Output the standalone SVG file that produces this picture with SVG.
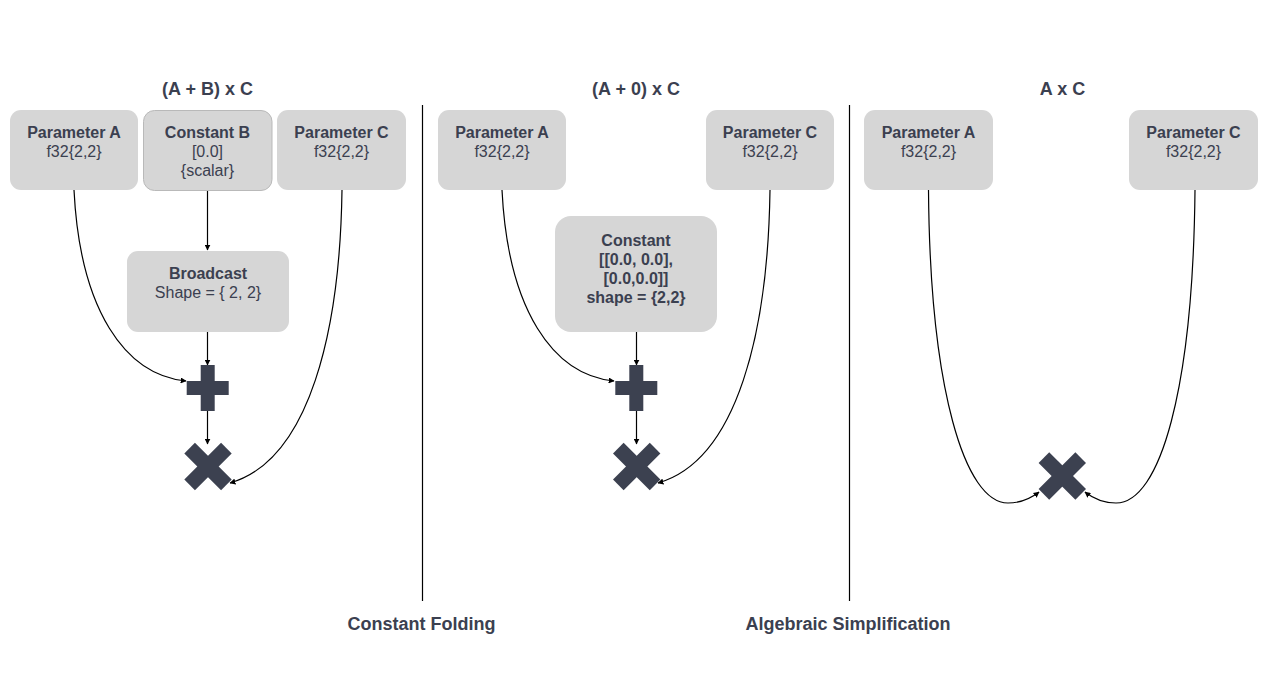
<svg xmlns="http://www.w3.org/2000/svg" width="1271" height="679" viewBox="0 0 1271 679">
<style>
.node{fill:#d6d6d6}
.nodeb{fill:#d6d6d6;stroke:#b9b9b9;stroke-width:1}
.t{font-family:"Liberation Sans",Arial,Helvetica,sans-serif;fill:#3b4050;text-anchor:middle}
.b{font-weight:bold}
.ti{font-size:18px;font-weight:bold}
.n{font-size:16px}
.op{fill:#3c4150}
.c{fill:none;stroke:#000;stroke-width:1.2}
.div{stroke:#000;stroke-width:1.2}
</style>
<defs>
<marker id="ah" viewBox="0 0 10 10" refX="9" refY="5" markerWidth="6" markerHeight="6" markerUnits="userSpaceOnUse" orient="auto">
<path d="M0,0 L10,5 L0,10 Z" fill="#000"/>
</marker>
<g id="plus"><rect x="-7" y="-23" width="14" height="46"/><rect x="-21" y="-7" width="42" height="14"/></g>
<g id="times"><rect x="-26" y="-7.5" width="52" height="15" transform="rotate(45)"/><rect x="-26" y="-7.5" width="52" height="15" transform="rotate(-45)"/></g>
</defs>
<rect width="1271" height="679" fill="#fff"/>

<g id="titles" class="t ti">
<text x="207.5" y="95">(A + B) x C</text>
<text x="636" y="95">(A + 0) x C</text>
<text x="1062.5" y="95">A x C</text>
<text x="421.5" y="630">Constant Folding</text>
<text x="848" y="630">Algebraic Simplification</text>
</g>

<g id="dividers">
<line class="div" x1="422.5" y1="105" x2="422.5" y2="601"/>
<line class="div" x1="849.5" y1="105" x2="849.5" y2="601"/>
</g>

<g id="connectors">
<path class="c" marker-end="url(#ah)" d="M74,190 C80,310 125,375 186,381"/>
<path class="c" marker-end="url(#ah)" d="M207.5,191 L207.5,250"/>
<path class="c" marker-end="url(#ah)" d="M207.5,332 L207.5,365"/>
<path class="c" marker-end="url(#ah)" d="M207.5,411 L207.5,444"/>
<path class="c" marker-end="url(#ah)" d="M342,190 C340,330 310,460 230,483"/>

<path class="c" marker-end="url(#ah)" d="M502,190 C508,310 553,375 614,381"/>
<path class="c" marker-end="url(#ah)" d="M636.5,332 L636.5,365"/>
<path class="c" marker-end="url(#ah)" d="M636.5,411 L636.5,444"/>
<path class="c" marker-end="url(#ah)" d="M770,190 C768,330 738,460 658,483"/>

<path class="c" marker-end="url(#ah)" d="M928.5,190 C930,390 965,503 1008,503 Q1025,503 1039,492"/>
<path class="c" marker-end="url(#ah)" d="M1195,190 C1193,390 1160,503 1116,503 Q1099,503 1085,492"/>
</g>

<g id="left-paramA">
<rect class="node" x="10" y="110" width="128" height="80" rx="11"/>
<text class="t n b" x="74" y="138">Parameter A</text>
<text class="t n" x="74" y="157">f32{2,2}</text>
</g>
<g id="left-constB">
<rect class="nodeb" x="143.5" y="110.5" width="128.5" height="80" rx="11"/>
<text class="t n b" x="207.5" y="138">Constant B</text>
<text class="t n" x="207.5" y="157">[0.0]</text>
<text class="t n" x="207.5" y="176">{scalar}</text>
</g>
<g id="left-paramC">
<rect class="node" x="277" y="110" width="129" height="80" rx="11"/>
<text class="t n b" x="341.5" y="138">Parameter C</text>
<text class="t n" x="341.5" y="157">f32{2,2}</text>
</g>
<g id="left-broadcast">
<rect class="node" x="127" y="251" width="162" height="81" rx="11"/>
<text class="t n b" x="208" y="279">Broadcast</text>
<text class="t n" x="208" y="298">Shape = { 2, 2}</text>
</g>
<g id="left-plus" class="op"><use href="#plus" x="207.7" y="388"/></g>
<g id="left-times" class="op"><use href="#times" x="208" y="466.5"/></g>

<g id="mid-paramA">
<rect class="node" x="438" y="110" width="128" height="80" rx="11"/>
<text class="t n b" x="502" y="138">Parameter A</text>
<text class="t n" x="502" y="157">f32{2,2}</text>
</g>
<g id="mid-paramC">
<rect class="node" x="706" y="110" width="128" height="80" rx="11"/>
<text class="t n b" x="770" y="138">Parameter C</text>
<text class="t n" x="770" y="157">f32{2,2}</text>
</g>
<g id="mid-constant">
<rect class="node" x="555" y="216" width="162" height="116" rx="16"/>
<text class="t n b" x="636" y="246">Constant</text>
<text class="t n b" x="636" y="265">[[0.0, 0.0],</text>
<text class="t n b" x="636" y="284">[0.0,0.0]]</text>
<text class="t n b" x="636" y="303">shape = {2,2}</text>
</g>
<g id="mid-plus" class="op"><use href="#plus" x="636.3" y="388"/></g>
<g id="mid-times" class="op"><use href="#times" x="636.7" y="466.5"/></g>

<g id="right-paramA">
<rect class="node" x="864" y="110" width="129" height="80" rx="11"/>
<text class="t n b" x="928.5" y="138">Parameter A</text>
<text class="t n" x="928.5" y="157">f32{2,2}</text>
</g>
<g id="right-paramC">
<rect class="node" x="1129" y="110" width="129" height="80" rx="11"/>
<text class="t n b" x="1193.5" y="138">Parameter C</text>
<text class="t n" x="1193.5" y="157">f32{2,2}</text>
</g>
<g id="right-times" class="op"><use href="#times" x="1062.3" y="476"/></g>
</svg>
